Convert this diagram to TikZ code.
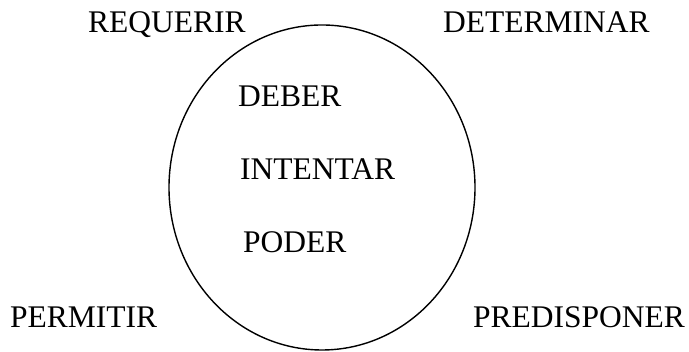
\documentclass[tikz,border=0pt]{standalone}
\usepackage{fontspec}
\setmainfont{Liberation Serif}
\usepackage{xcolor}

\tikzset{verbo/.style={inner sep=0pt, anchor=base west, font=\fontsize{31.5}{38}\selectfont}}

\begin{document}
\begin{tikzpicture}[x=1pt, y=1pt]
    \useasboundingbox (0,0) rectangle (689,352);

    % Circle
    \draw[line width=1.4pt] (322,164.5) ellipse (153 and 162.5);

    % Inside
    \node[verbo] (deber) at (238,245) {DEBER};
    \node[verbo] (intentar) at (240,172) {INTENTAR};
    \node[verbo] (poder) at (243,99) {PODER};

    % Outside, top
    \node[verbo] (requerir) at (88,319) {REQUERIR};
    \node[verbo] (determinar) at (443,319) {DETERMINAR};

    % Outside, bottom
    \node[verbo] (permitir) at (10,24) {PERMITIR};
    \node[verbo] (predisponer) at (473,24) {PREDISPONER};
\end{tikzpicture}
\end{document}
